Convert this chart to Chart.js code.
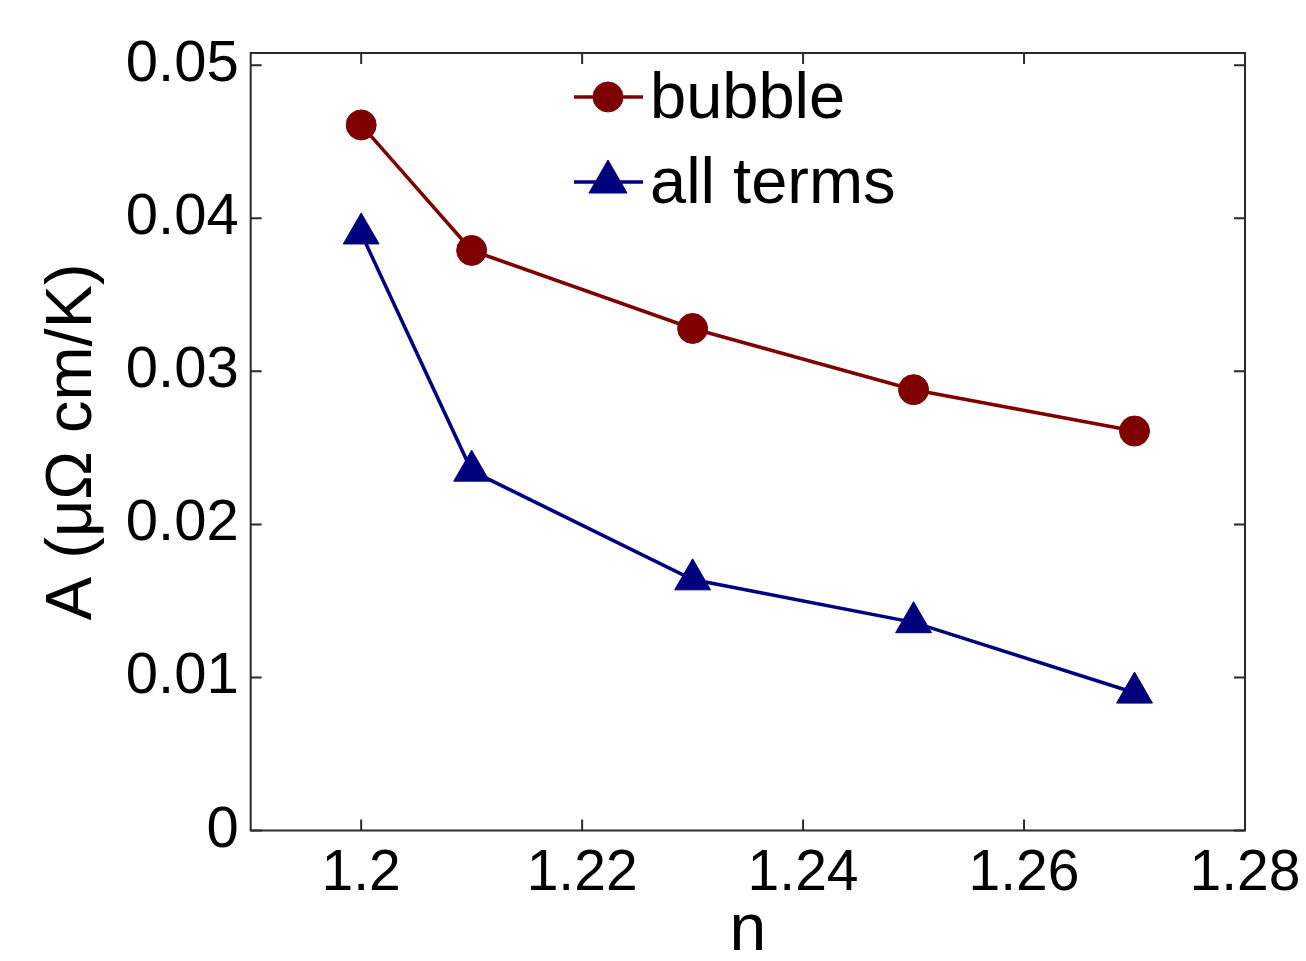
<!DOCTYPE html>
<html>
<head>
<meta charset="utf-8">
<script src="https://cdn.jsdelivr.net/npm/chart.js@4/dist/chart.umd.min.js"></script>
<style>
  html, body { margin: 0; padding: 0; background: #ffffff; }
  #wrap { width: 1306px; height: 961px; }
</style>
</head>
<body>
<div id="wrap"><canvas id="c" width="1306" height="961"></canvas></div>
<script>
// Filling factor n and the T-linear resistivity coefficient A
const nValues = [1.2, 1.21, 1.23, 1.25, 1.27];
const bubbleA = [0.0461, 0.0379, 0.0328, 0.0288, 0.0261];
const allTermsA = [0.0390, 0.0235, 0.0164, 0.0136, 0.0090];

const seriesNames = ['bubble', 'all terms'];

const xTickValues = [1.2, 1.22, 1.24, 1.26, 1.28];
const xTickLabels = ['1.2', '1.22', '1.24', '1.26', '1.28'];
const yTickValues = [0, 0.01, 0.02, 0.03, 0.04, 0.05];
const yTickLabels = ['0', '0.01', '0.02', '0.03', '0.04', '0.05'];

const FONT = '"Liberation Sans", Arial, Helvetica, sans-serif';
const RED = '#7f0000';
const BLUE = '#00007f';
const FRAME = '#2b2b2b';

const toPoints = (ys) => nValues.map((x, i) => ({ x, y: ys[i] }));

// Box around the axes with inward tick marks on all four sides
const boxFrame = {
  id: 'boxFrame',
  afterDraw(chart) {
    const { ctx, chartArea: a, scales } = chart;
    const len = 11;
    ctx.save();
    ctx.strokeStyle = FRAME;
    ctx.lineWidth = 2;
    ctx.strokeRect(a.left, a.top, a.right - a.left, a.bottom - a.top);
    ctx.beginPath();
    scales.x.ticks.forEach(t => {
      const px = scales.x.getPixelForValue(t.value);
      ctx.moveTo(px, a.bottom); ctx.lineTo(px, a.bottom - len);
      ctx.moveTo(px, a.top); ctx.lineTo(px, a.top + len);
    });
    scales.y.ticks.forEach(t => {
      const py = scales.y.getPixelForValue(t.value);
      ctx.moveTo(a.left, py); ctx.lineTo(a.left + len, py);
      ctx.moveTo(a.right, py); ctx.lineTo(a.right - len, py);
    });
    ctx.stroke();
    ctx.restore();
  }
};

// Legend with a short line sample and the marker in its middle
const lineLegend = {
  id: 'lineLegend',
  afterDraw(chart) {
    const { ctx } = chart;
    const x0 = 574, x1 = 643, xm = 608, tx = 650;
    const rows = [97, 182];
    ctx.save();
    chart.data.datasets.forEach((ds, i) => {
      const y = rows[i];
      ctx.strokeStyle = ds.borderColor;
      ctx.lineWidth = ds.borderWidth;
      ctx.beginPath();
      ctx.moveTo(x0, y); ctx.lineTo(x1, y);
      ctx.stroke();
      ctx.fillStyle = ds.pointBackgroundColor;
      ctx.strokeStyle = ds.pointBorderColor;
      ctx.lineWidth = 1;
      Chart.helpers.drawPoint(ctx, {
        pointStyle: ds.pointStyle,
        radius: ds.pointStyle === 'triangle' ? 22 : 15,
        rotation: 0,
        borderWidth: 1
      }, xm, y);
      ctx.fillStyle = '#000';
      ctx.font = '65px ' + FONT;
      ctx.textAlign = 'left';
      ctx.textBaseline = 'middle';
      ctx.fillText(ds.label, tx, y + 3);
    });
    ctx.restore();
  }
};

new Chart(document.getElementById('c'), {
  type: 'line',
  data: {
    datasets: [
      {
        label: seriesNames[0],
        data: toPoints(bubbleA),
        borderColor: RED,
        backgroundColor: RED,
        borderWidth: 3.5,
        pointStyle: 'circle',
        pointRadius: 15,
        pointBackgroundColor: RED,
        pointBorderColor: RED,
        pointBorderWidth: 1,
        tension: 0
      },
      {
        label: seriesNames[1],
        data: toPoints(allTermsA),
        borderColor: BLUE,
        backgroundColor: BLUE,
        borderWidth: 3.5,
        pointStyle: 'triangle',
        pointRadius: 20.7,
        pointBackgroundColor: BLUE,
        pointBorderColor: BLUE,
        pointBorderWidth: 1,
        tension: 0
      }
    ]
  },
  options: {
    responsive: false,
    animation: false,
    events: [],
    devicePixelRatio: 1,
    layout: { padding: { top: 53, right: 61, left: 0, bottom: 0 } },
    plugins: {
      legend: { display: false },
      tooltip: { enabled: false }
    },
    scales: {
      x: {
        type: 'linear',
        min: 1.19,
        max: 1.28,
        afterBuildTicks: (s) => { s.ticks = xTickValues.map(v => ({ value: v })); },
        afterFit: (s) => {
          s.height = 130.5;
          s.paddingLeft = 0;
          s.paddingRight = 0;
        },
        grid: { display: false, drawTicks: false },
        border: { display: false },
        ticks: {
          padding: 10,
          color: '#000',
          font: { family: FONT, size: 57 },
          maxRotation: 0,
          autoSkip: false,
          callback: (v) => {
            const i = xTickValues.findIndex(t => Math.abs(t - v) < 1e-9);
            return i >= 0 ? xTickLabels[i] : '';
          }
        },
        title: {
          display: true,
          text: 'n',
          color: '#000',
          font: { family: FONT, size: 66, lineHeight: 0.9 },
          padding: { top: 0, bottom: 0 }
        }
      },
      y: {
        type: 'linear',
        min: 0,
        max: 0.0508,
        afterBuildTicks: (s) => { s.ticks = yTickValues.map(v => ({ value: v })); },
        afterFit: (s) => {
          s.width = 250.7;
          s.paddingTop = 0;
          s.paddingBottom = 0;
        },
        grid: { display: false, drawTicks: false },
        border: { display: false },
        ticks: {
          padding: 12,
          color: '#000',
          font: { family: FONT, size: 58 },
          callback: (v) => {
            const i = yTickValues.findIndex(t => Math.abs(t - v) < 1e-9);
            return i >= 0 ? yTickLabels[i] : '';
          }
        },
        title: {
          display: true,
          text: 'A (μΩ cm/K)',
          color: '#000',
          font: { family: FONT, size: 65, lineHeight: 1.2 },
          padding: { top: 34, bottom: 0 }
        }
      }
    }
  },
  plugins: [boxFrame, lineLegend]
});
</script>
</body>
</html>
